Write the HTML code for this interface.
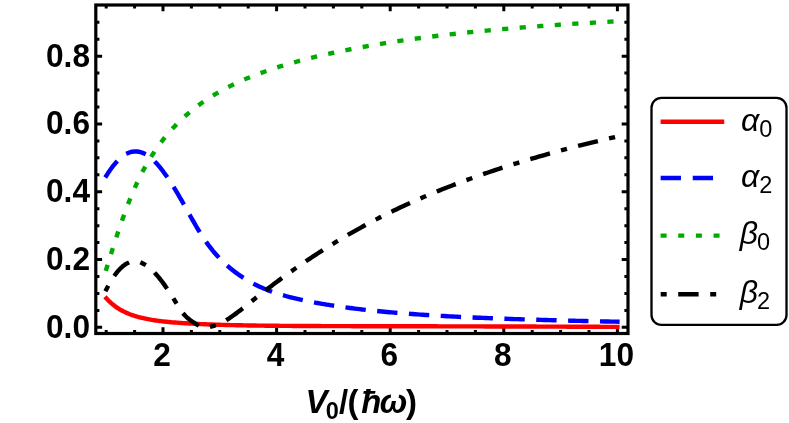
<!DOCTYPE html>
<html><head><meta charset="utf-8"><title>plot</title>
<style>
html,body{margin:0;padding:0;background:#fff;}
body{width:789px;height:423px;overflow:hidden;font-family:"Liberation Sans",sans-serif;}
svg{display:block;will-change:transform}
text{font-family:"Liberation Sans",sans-serif;fill:#000}
.b{font-weight:bold;font-size:33.5px}
.bi text{font-weight:bold;font-style:italic;font-size:33px}
.bi text.sub{font-style:normal;font-weight:bold;font-size:23.5px}
.bi text.up{font-style:normal}
.i{font-style:italic;font-size:32px}
.s{font-style:normal;font-size:23.5px}
</style></head><body>
<svg width="789" height="423" viewBox="0 0 789 423">
<rect width="789" height="423" fill="#fff"/>
<rect x="95.8" y="5.0" width="532.2" height="328.5" fill="none" stroke="#000" stroke-width="3.2"/>
<path d="M106.20 333.5 v-3.6 M106.20 5.0 v3.6 M134.60 333.5 v-3.6 M134.60 5.0 v3.6 M163.00 333.5 v-6.3 M163.00 5.0 v6.3 M191.40 333.5 v-3.6 M191.40 5.0 v3.6 M219.80 333.5 v-3.6 M219.80 5.0 v3.6 M248.20 333.5 v-3.6 M248.20 5.0 v3.6 M276.60 333.5 v-6.3 M276.60 5.0 v6.3 M305.00 333.5 v-3.6 M305.00 5.0 v3.6 M333.40 333.5 v-3.6 M333.40 5.0 v3.6 M361.80 333.5 v-3.6 M361.80 5.0 v3.6 M390.20 333.5 v-6.3 M390.20 5.0 v6.3 M418.60 333.5 v-3.6 M418.60 5.0 v3.6 M447.00 333.5 v-3.6 M447.00 5.0 v3.6 M475.40 333.5 v-3.6 M475.40 5.0 v3.6 M503.80 333.5 v-6.3 M503.80 5.0 v6.3 M532.20 333.5 v-3.6 M532.20 5.0 v3.6 M560.60 333.5 v-3.6 M560.60 5.0 v3.6 M589.00 333.5 v-3.6 M589.00 5.0 v3.6 M617.40 333.5 v-6.3 M617.40 5.0 v6.3 M95.8 327.35 h6.3 M628.0 327.35 h-6.3 M95.8 310.40 h3.6 M628.0 310.40 h-3.6 M95.8 293.45 h3.6 M628.0 293.45 h-3.6 M95.8 276.50 h3.6 M628.0 276.50 h-3.6 M95.8 259.55 h6.3 M628.0 259.55 h-6.3 M95.8 242.60 h3.6 M628.0 242.60 h-3.6 M95.8 225.65 h3.6 M628.0 225.65 h-3.6 M95.8 208.70 h3.6 M628.0 208.70 h-3.6 M95.8 191.75 h6.3 M628.0 191.75 h-6.3 M95.8 174.80 h3.6 M628.0 174.80 h-3.6 M95.8 157.85 h3.6 M628.0 157.85 h-3.6 M95.8 140.90 h3.6 M628.0 140.90 h-3.6 M95.8 123.95 h6.3 M628.0 123.95 h-6.3 M95.8 107.00 h3.6 M628.0 107.00 h-3.6 M95.8 90.05 h3.6 M628.0 90.05 h-3.6 M95.8 73.10 h3.6 M628.0 73.10 h-3.6 M95.8 56.15 h6.3 M628.0 56.15 h-6.3 M95.8 39.20 h3.6 M628.0 39.20 h-3.6 M95.8 22.25 h3.6 M628.0 22.25 h-3.6" stroke="#000" stroke-width="3.0" fill="none"/>
<text transform="translate(162.00,366.2) scale(0.945,1)" text-anchor="middle" class="b">2</text>
<text transform="translate(275.60,366.2) scale(0.945,1)" text-anchor="middle" class="b">4</text>
<text transform="translate(389.20,366.2) scale(0.945,1)" text-anchor="middle" class="b">6</text>
<text transform="translate(502.80,366.2) scale(0.945,1)" text-anchor="middle" class="b">8</text>
<text transform="translate(616.40,366.2) scale(0.945,1)" text-anchor="middle" class="b">10</text>
<text transform="translate(90.0,337.85) scale(0.945,1)" text-anchor="end" class="b">0.0</text>
<text transform="translate(90.0,270.05) scale(0.945,1)" text-anchor="end" class="b">0.2</text>
<text transform="translate(90.0,202.25) scale(0.945,1)" text-anchor="end" class="b">0.4</text>
<text transform="translate(90.0,134.45) scale(0.945,1)" text-anchor="end" class="b">0.6</text>
<text transform="translate(90.0,66.65) scale(0.945,1)" text-anchor="end" class="b">0.8</text>
<g class="bi"><text x="305.5" y="413">V</text><text x="325.8" y="418.9" class="sub">0</text><text x="339.1" y="413" class="up">/</text><text x="347.6" y="413" class="up">(</text><text x="361.2" y="413">ħ</text><text x="379.8" y="413">ω</text><text x="406.0" y="413" class="up">)</text></g>
<g fill="none" stroke-width="4.4" stroke-linecap="square" stroke-linejoin="round">
<path d="M106.40 298.38 L106.47 298.46 L106.61 298.61 L106.81 298.83 L107.05 299.08 L107.32 299.38 L107.64 299.71 L107.98 300.06 L108.36 300.45 L108.77 300.85 L109.20 301.27 L109.66 301.72 L110.15 302.17 L110.66 302.64 L111.20 303.12 L111.76 303.60 L112.34 304.09 L112.94 304.59 L113.57 305.09 L114.22 305.59 L114.89 306.10 L115.58 306.60 L116.29 307.10 L117.01 307.60 L117.76 308.10 L118.53 308.59 L119.32 309.07 L120.12 309.55 L120.94 310.03 L121.78 310.49 L122.64 310.95 L123.51 311.40 L124.40 311.85 L125.31 312.28 L126.24 312.71 L127.18 313.12 L128.14 313.53 L129.11 313.93 L130.10 314.31 L131.11 314.69 L132.13 315.06 L133.17 315.42 L134.22 315.76 L135.29 316.10 L136.37 316.43 L137.47 316.75 L138.58 317.06 L139.70 317.36 L140.85 317.65 L142.00 317.93 L143.17 318.20 L144.35 318.46 L145.55 318.72 L146.76 318.96 L147.99 319.20 L149.23 319.43 L150.48 319.65 L151.75 319.87 L153.03 320.07 L154.32 320.27 L155.62 320.47 L156.94 320.65 L158.28 320.83 L159.62 321.00 L160.98 321.17 L162.35 321.33 L163.73 321.49 L165.13 321.64 L166.54 321.78 L167.96 321.92 L169.39 322.06 L170.84 322.19 L172.30 322.32 L173.77 322.44 L175.25 322.56 L176.75 322.67 L178.25 322.79 L179.77 322.89 L181.30 323.00 L182.84 323.11 L184.40 323.21 L185.96 323.30 L187.54 323.40 L189.13 323.49 L190.73 323.58 L192.34 323.67 L193.97 323.76 L195.60 323.84 L197.25 323.92 L198.91 324.00 L200.57 324.08 L202.25 324.15 L203.94 324.22 L205.65 324.29 L207.36 324.36 L209.08 324.43 L210.82 324.49 L212.56 324.55 L214.32 324.61 L216.09 324.67 L217.87 324.73 L219.65 324.78 L221.45 324.84 L223.26 324.89 L225.08 324.94 L226.92 324.99 L228.76 325.03 L230.61 325.08 L232.47 325.12 L234.35 325.16 L236.23 325.21 L238.12 325.25 L240.03 325.28 L241.94 325.32 L243.86 325.36 L245.80 325.39 L247.74 325.43 L249.70 325.46 L251.66 325.49 L253.64 325.52 L255.62 325.55 L257.62 325.58 L259.62 325.61 L261.63 325.63 L263.66 325.66 L265.69 325.68 L267.74 325.71 L269.79 325.73 L271.85 325.75 L273.93 325.77 L276.01 325.79 L278.10 325.81 L280.20 325.83 L282.32 325.85 L284.44 325.87 L286.57 325.88 L288.71 325.90 L290.86 325.92 L293.02 325.93 L295.18 325.95 L297.36 325.96 L299.55 325.97 L301.75 325.99 L303.95 326.00 L306.17 326.01 L308.39 326.02 L310.62 326.03 L312.87 326.04 L315.12 326.06 L317.38 326.07 L319.65 326.07 L321.93 326.08 L324.22 326.09 L326.51 326.10 L328.82 326.11 L331.14 326.12 L333.46 326.12 L335.79 326.13 L338.14 326.14 L340.49 326.15 L342.85 326.15 L345.22 326.16 L347.59 326.17 L349.98 326.17 L352.38 326.18 L354.78 326.18 L357.19 326.19 L359.61 326.19 L362.04 326.20 L364.48 326.20 L366.93 326.21 L369.39 326.21 L371.85 326.22 L374.33 326.22 L376.81 326.23 L379.30 326.23 L381.80 326.24 L384.31 326.24 L386.82 326.24 L389.35 326.25 L391.88 326.25 L394.42 326.26 L396.97 326.26 L399.53 326.26 L402.10 326.27 L404.67 326.27 L407.26 326.28 L409.85 326.28 L412.45 326.29 L415.06 326.29 L417.68 326.29 L420.30 326.30 L422.94 326.30 L425.58 326.31 L428.23 326.31 L430.89 326.32 L433.55 326.32 L436.23 326.32 L438.91 326.33 L441.60 326.33 L444.30 326.34 L447.01 326.34 L449.72 326.35 L452.45 326.35 L455.18 326.36 L457.92 326.36 L460.67 326.37 L463.42 326.38 L466.18 326.38 L468.96 326.39 L471.74 326.39 L474.52 326.40 L477.32 326.41 L480.12 326.41 L482.93 326.42 L485.75 326.43 L488.58 326.43 L491.41 326.44 L494.26 326.45 L497.11 326.45 L499.97 326.46 L502.83 326.47 L505.71 326.48 L508.59 326.49 L511.48 326.49 L514.37 326.50 L517.28 326.51 L520.19 326.52 L523.11 326.53 L526.04 326.54 L528.98 326.55 L531.92 326.56 L534.87 326.57 L537.83 326.58 L540.80 326.59 L543.77 326.60 L546.75 326.61 L549.74 326.62 L552.74 326.63 L555.74 326.64 L558.75 326.65 L561.77 326.66 L564.80 326.67 L567.84 326.69 L570.88 326.70 L573.93 326.71 L576.98 326.72 L580.05 326.74 L583.12 326.75 L586.20 326.76 L589.29 326.78 L592.38 326.79 L595.48 326.80 L598.59 326.82 L601.71 326.83 L604.83 326.85 L607.96 326.86 L611.10 326.88 L614.25 326.89 L617.40 326.91" stroke="#ff0000"/>
<path d="M106.40 175.60 L106.47 175.49 L106.61 175.27 L106.81 174.97 L107.05 174.60 L107.32 174.17 L107.64 173.69 L107.98 173.17 L108.36 172.61 L108.77 172.00 L109.20 171.36 L109.66 170.69 L110.15 169.99 L110.66 169.27 L111.20 168.53 L111.76 167.77 L112.34 166.99 L112.94 166.20 L113.57 165.40 L114.22 164.59 L114.89 163.78 L115.58 162.97 L116.29 162.17 L117.01 161.37 L117.76 160.58 L118.53 159.80 L119.32 159.04 L120.12 158.30 L120.94 157.58 L121.78 156.88 L122.64 156.22 L123.51 155.58 L124.40 154.98 L125.31 154.41 L126.24 153.89 L127.18 153.41 L128.14 152.97 L129.11 152.59 L130.10 152.25 L131.11 151.97 L132.13 151.74 L133.17 151.58 L134.22 151.47 L135.29 151.43 L136.37 151.45 L137.47 151.55 L138.58 151.71 L139.70 151.95 L140.85 152.26 L142.00 152.64 L143.17 153.11 L144.35 153.66 L145.55 154.28 L146.76 154.99 L147.99 155.79 L149.23 156.67 L150.48 157.64 L151.75 158.70 L153.03 159.85 L154.32 161.09 L155.62 162.42 L156.94 163.85 L158.28 165.36 L159.62 166.96 L160.98 168.65 L162.35 170.42 L163.73 172.27 L165.13 174.19 L166.54 176.19 L167.96 178.27 L169.39 180.42 L170.84 182.63 L172.30 184.92 L173.77 187.27 L175.25 189.68 L176.75 192.15 L178.25 194.69 L179.77 197.28 L181.30 199.92 L182.84 202.62 L184.40 205.37 L185.96 208.16 L187.54 210.99 L189.13 213.84 L190.73 216.70 L192.34 219.56 L193.97 222.40 L195.60 225.23 L197.25 228.02 L198.91 230.78 L200.57 233.48 L202.25 236.12 L203.94 238.70 L205.65 241.19 L207.36 243.61 L209.08 245.94 L210.82 248.19 L212.56 250.37 L214.32 252.47 L216.09 254.50 L217.87 256.46 L219.65 258.35 L221.45 260.17 L223.26 261.94 L225.08 263.64 L226.92 265.30 L228.76 266.91 L230.61 268.47 L232.47 269.98 L234.35 271.45 L236.23 272.87 L238.12 274.24 L240.03 275.58 L241.94 276.86 L243.86 278.11 L245.80 279.32 L247.74 280.48 L249.70 281.61 L251.66 282.69 L253.64 283.74 L255.62 284.75 L257.62 285.72 L259.62 286.66 L261.63 287.56 L263.66 288.44 L265.69 289.28 L267.74 290.09 L269.79 290.87 L271.85 291.63 L273.93 292.36 L276.01 293.06 L278.10 293.74 L280.20 294.40 L282.32 295.04 L284.44 295.65 L286.57 296.25 L288.71 296.82 L290.86 297.38 L293.02 297.92 L295.18 298.45 L297.36 298.96 L299.55 299.45 L301.75 299.94 L303.95 300.41 L306.17 300.87 L308.39 301.31 L310.62 301.75 L312.87 302.18 L315.12 302.60 L317.38 303.01 L319.65 303.41 L321.93 303.81 L324.22 304.19 L326.51 304.57 L328.82 304.94 L331.14 305.31 L333.46 305.67 L335.79 306.02 L338.14 306.36 L340.49 306.70 L342.85 307.03 L345.22 307.35 L347.59 307.67 L349.98 307.98 L352.38 308.28 L354.78 308.58 L357.19 308.88 L359.61 309.16 L362.04 309.44 L364.48 309.72 L366.93 309.99 L369.39 310.26 L371.85 310.52 L374.33 310.77 L376.81 311.02 L379.30 311.27 L381.80 311.51 L384.31 311.74 L386.82 311.97 L389.35 312.20 L391.88 312.42 L394.42 312.64 L396.97 312.85 L399.53 313.06 L402.10 313.27 L404.67 313.47 L407.26 313.67 L409.85 313.86 L412.45 314.05 L415.06 314.24 L417.68 314.42 L420.30 314.60 L422.94 314.77 L425.58 314.95 L428.23 315.11 L430.89 315.28 L433.55 315.44 L436.23 315.60 L438.91 315.76 L441.60 315.91 L444.30 316.07 L447.01 316.21 L449.72 316.36 L452.45 316.50 L455.18 316.64 L457.92 316.78 L460.67 316.91 L463.42 317.05 L466.18 317.18 L468.96 317.31 L471.74 317.43 L474.52 317.55 L477.32 317.68 L480.12 317.79 L482.93 317.91 L485.75 318.03 L488.58 318.14 L491.41 318.25 L494.26 318.36 L497.11 318.47 L499.97 318.57 L502.83 318.68 L505.71 318.78 L508.59 318.88 L511.48 318.98 L514.37 319.08 L517.28 319.17 L520.19 319.27 L523.11 319.36 L526.04 319.45 L528.98 319.54 L531.92 319.63 L534.87 319.72 L537.83 319.80 L540.80 319.89 L543.77 319.97 L546.75 320.06 L549.74 320.14 L552.74 320.22 L555.74 320.30 L558.75 320.38 L561.77 320.45 L564.80 320.53 L567.84 320.61 L570.88 320.68 L573.93 320.75 L576.98 320.83 L580.05 320.90 L583.12 320.97 L586.20 321.04 L589.29 321.11 L592.38 321.18 L595.48 321.25 L598.59 321.32 L601.71 321.38 L604.83 321.45 L607.96 321.51 L611.10 321.58 L614.25 321.64 L617.40 321.71" stroke="#0000ff" stroke-dasharray="16.0 15.87"/>
<path d="M106.40 268.75 L106.47 268.53 L106.61 268.07 L106.81 267.45 L107.05 266.69 L107.32 265.80 L107.64 264.80 L107.98 263.70 L108.36 262.49 L108.77 261.19 L109.20 259.80 L109.66 258.33 L110.15 256.77 L110.66 255.14 L111.20 253.43 L111.76 251.66 L112.34 249.81 L112.94 247.90 L113.57 245.93 L114.22 243.91 L114.89 241.83 L115.58 239.70 L116.29 237.52 L117.01 235.29 L117.76 233.03 L118.53 230.73 L119.32 228.39 L120.12 226.03 L120.94 223.63 L121.78 221.22 L122.64 218.78 L123.51 216.32 L124.40 213.85 L125.31 211.37 L126.24 208.89 L127.18 206.40 L128.14 203.90 L129.11 201.42 L130.10 198.93 L131.11 196.46 L132.13 193.99 L133.17 191.55 L134.22 189.12 L135.29 186.71 L136.37 184.32 L137.47 181.96 L138.58 179.63 L139.70 177.32 L140.85 175.04 L142.00 172.79 L143.17 170.57 L144.35 168.37 L145.55 166.21 L146.76 164.07 L147.99 161.96 L149.23 159.88 L150.48 157.83 L151.75 155.81 L153.03 153.82 L154.32 151.85 L155.62 149.91 L156.94 148.01 L158.28 146.13 L159.62 144.28 L160.98 142.45 L162.35 140.66 L163.73 138.89 L165.13 137.15 L166.54 135.43 L167.96 133.74 L169.39 132.08 L170.84 130.44 L172.30 128.83 L173.77 127.25 L175.25 125.68 L176.75 124.15 L178.25 122.63 L179.77 121.15 L181.30 119.68 L182.84 118.24 L184.40 116.82 L185.96 115.42 L187.54 114.05 L189.13 112.69 L190.73 111.36 L192.34 110.05 L193.97 108.76 L195.60 107.49 L197.25 106.24 L198.91 105.01 L200.57 103.80 L202.25 102.61 L203.94 101.44 L205.65 100.29 L207.36 99.15 L209.08 98.03 L210.82 96.93 L212.56 95.85 L214.32 94.78 L216.09 93.73 L217.87 92.69 L219.65 91.67 L221.45 90.67 L223.26 89.68 L225.08 88.71 L226.92 87.75 L228.76 86.81 L230.61 85.88 L232.47 84.96 L234.35 84.06 L236.23 83.17 L238.12 82.29 L240.03 81.43 L241.94 80.58 L243.86 79.74 L245.80 78.91 L247.74 78.09 L249.70 77.29 L251.66 76.50 L253.64 75.71 L255.62 74.94 L257.62 74.18 L259.62 73.43 L261.63 72.69 L263.66 71.96 L265.69 71.24 L267.74 70.53 L269.79 69.83 L271.85 69.14 L273.93 68.45 L276.01 67.78 L278.10 67.11 L280.20 66.45 L282.32 65.80 L284.44 65.16 L286.57 64.52 L288.71 63.90 L290.86 63.28 L293.02 62.67 L295.18 62.06 L297.36 61.46 L299.55 60.87 L301.75 60.29 L303.95 59.71 L306.17 59.14 L308.39 58.57 L310.62 58.01 L312.87 57.46 L315.12 56.91 L317.38 56.37 L319.65 55.83 L321.93 55.30 L324.22 54.78 L326.51 54.26 L328.82 53.74 L331.14 53.23 L333.46 52.73 L335.79 52.23 L338.14 51.74 L340.49 51.25 L342.85 50.76 L345.22 50.29 L347.59 49.81 L349.98 49.34 L352.38 48.88 L354.78 48.42 L357.19 47.97 L359.61 47.52 L362.04 47.07 L364.48 46.64 L366.93 46.20 L369.39 45.77 L371.85 45.34 L374.33 44.92 L376.81 44.50 L379.30 44.09 L381.80 43.68 L384.31 43.28 L386.82 42.88 L389.35 42.48 L391.88 42.09 L394.42 41.70 L396.97 41.32 L399.53 40.94 L402.10 40.56 L404.67 40.19 L407.26 39.82 L409.85 39.46 L412.45 39.10 L415.06 38.74 L417.68 38.39 L420.30 38.04 L422.94 37.69 L425.58 37.35 L428.23 37.01 L430.89 36.68 L433.55 36.34 L436.23 36.02 L438.91 35.69 L441.60 35.37 L444.30 35.05 L447.01 34.74 L449.72 34.43 L452.45 34.12 L455.18 33.82 L457.92 33.52 L460.67 33.22 L463.42 32.92 L466.18 32.63 L468.96 32.34 L471.74 32.06 L474.52 31.78 L477.32 31.50 L480.12 31.22 L482.93 30.95 L485.75 30.68 L488.58 30.41 L491.41 30.14 L494.26 29.88 L497.11 29.62 L499.97 29.37 L502.83 29.11 L505.71 28.86 L508.59 28.62 L511.48 28.37 L514.37 28.13 L517.28 27.89 L520.19 27.65 L523.11 27.42 L526.04 27.18 L528.98 26.95 L531.92 26.73 L534.87 26.50 L537.83 26.28 L540.80 26.06 L543.77 25.84 L546.75 25.63 L549.74 25.42 L552.74 25.21 L555.74 25.00 L558.75 24.79 L561.77 24.59 L564.80 24.39 L567.84 24.19 L570.88 24.00 L573.93 23.80 L576.98 23.61 L580.05 23.42 L583.12 23.23 L586.20 23.05 L589.29 22.86 L592.38 22.68 L595.48 22.50 L598.59 22.33 L601.71 22.15 L604.83 21.98 L607.96 21.81 L611.10 21.64 L614.25 21.47 L617.40 21.31" stroke="#00aa00" stroke-dasharray="1.8 15.78"/>
<path d="M106.40 289.29 L107.47 287.26 L108.54 285.29 L109.61 283.39 L110.67 281.56 L111.74 279.80 L112.81 278.12 L113.88 276.51 L114.95 274.99 L116.02 273.54 L117.09 272.17 L118.15 270.89 L119.22 269.68 L120.29 268.56 L121.36 267.52 L122.43 266.56 L123.50 265.69 L124.57 264.90 L125.63 264.19 L126.70 263.56 L127.77 263.01 L128.84 262.54 L129.91 262.16 L130.98 261.85 L132.04 261.62 L133.11 261.47 L134.18 261.40 L135.25 261.40 L136.32 261.48 L137.39 261.63 L138.46 261.86 L139.52 262.15 L140.59 262.51 L141.66 262.94 L142.73 263.43 L143.80 263.99 L144.87 264.60 L145.94 265.28 L147.00 266.01 L148.07 266.79 L149.14 267.64 L150.21 268.53 L151.28 269.48 L152.35 270.47 L153.42 271.52 L154.48 272.61 L155.55 273.74 L156.62 274.93 L157.69 276.16 L158.76 277.43 L159.83 278.74 L160.90 280.09 L161.96 281.48 L163.03 282.91 L164.10 284.38 L165.17 285.89 L166.24 287.43 L167.31 289.00 L168.38 290.60 L169.44 292.23 L170.51 293.88 L171.58 295.56 L172.65 297.25 L173.72 298.97 L174.79 300.71 L175.86 302.45 L176.92 304.20 L177.99 305.92 L179.06 307.60 L180.13 309.22 L181.20 310.77 L182.27 312.22 L183.33 313.57 L184.40 314.82 L185.47 315.97 L186.54 317.02 L187.61 318.00 L188.68 318.92 L189.75 319.77 L190.81 320.56 L191.88 321.32 L192.95 322.03 L194.02 322.71 L195.09 323.38 L196.16 324.02 L197.23 324.65 L198.29 325.28 L199.36 325.91 L200.43 326.55 L201.50 327.20 L201.65 327.21 L201.92 327.24 L202.27 327.28 L202.69 327.31 L203.16 327.34 L203.68 327.37 L204.24 327.38 L204.85 327.38 L205.50 327.37 L206.18 327.33 L206.91 327.28 L207.66 327.21 L208.44 327.11 L209.26 326.98 L210.11 326.83 L210.98 326.65 L211.88 326.44 L212.81 326.19 L213.77 325.91 L214.75 325.60 L215.76 325.25 L216.79 324.86 L217.84 324.44 L218.92 323.98 L220.02 323.48 L221.14 322.94 L222.29 322.36 L223.45 321.74 L224.64 321.08 L225.84 320.37 L227.07 319.63 L228.32 318.85 L229.59 318.03 L230.87 317.16 L232.18 316.27 L233.50 315.33 L234.84 314.36 L236.20 313.36 L237.58 312.33 L238.98 311.27 L240.39 310.18 L241.83 309.07 L243.27 307.93 L244.74 306.77 L246.22 305.59 L247.72 304.39 L249.24 303.18 L250.77 301.95 L252.32 300.72 L253.88 299.47 L255.46 298.22 L257.05 296.96 L258.66 295.69 L260.29 294.42 L261.93 293.15 L263.59 291.86 L265.26 290.58 L266.94 289.29 L268.64 287.99 L270.36 286.69 L272.08 285.39 L273.83 284.08 L275.58 282.77 L277.35 281.46 L279.14 280.14 L280.94 278.82 L282.75 277.50 L284.58 276.17 L286.41 274.84 L288.27 273.51 L290.13 272.18 L292.01 270.85 L293.90 269.51 L295.81 268.18 L297.73 266.84 L299.66 265.51 L301.60 264.17 L303.56 262.83 L305.53 261.49 L307.51 260.16 L309.50 258.82 L311.51 257.49 L313.53 256.16 L315.56 254.82 L317.60 253.49 L319.66 252.17 L321.72 250.84 L323.80 249.52 L325.89 248.20 L327.99 246.88 L330.11 245.56 L332.23 244.25 L334.37 242.94 L336.52 241.64 L338.68 240.33 L340.85 239.04 L343.04 237.74 L345.23 236.45 L347.44 235.17 L349.65 233.88 L351.88 232.61 L354.12 231.34 L356.37 230.07 L358.63 228.81 L360.90 227.55 L363.18 226.30 L365.48 225.05 L367.78 223.81 L370.10 222.58 L372.42 221.35 L374.76 220.13 L377.10 218.91 L379.46 217.70 L381.83 216.49 L384.21 215.30 L386.60 214.10 L388.99 212.92 L391.40 211.74 L393.82 210.57 L396.25 209.40 L398.69 208.25 L401.14 207.09 L403.60 205.95 L406.07 204.81 L408.55 203.68 L411.04 202.55 L413.54 201.44 L416.05 200.32 L418.57 199.22 L421.10 198.12 L423.63 197.03 L426.18 195.94 L428.74 194.86 L431.31 193.79 L433.89 192.73 L436.47 191.67 L439.07 190.61 L441.68 189.57 L444.29 188.52 L446.92 187.49 L449.55 186.46 L452.19 185.44 L454.85 184.42 L457.51 183.41 L460.18 182.41 L462.86 181.41 L465.55 180.42 L468.25 179.44 L470.96 178.46 L473.67 177.48 L476.40 176.52 L479.14 175.55 L481.88 174.60 L484.63 173.65 L487.40 172.71 L490.17 171.77 L492.95 170.84 L495.74 169.91 L498.53 168.99 L501.34 168.07 L504.16 167.16 L506.98 166.26 L509.81 165.36 L512.65 164.47 L515.50 163.58 L518.36 162.70 L521.23 161.82 L524.11 160.95 L526.99 160.09 L529.88 159.23 L532.79 158.37 L535.70 157.53 L538.62 156.68 L541.54 155.84 L544.48 155.01 L547.42 154.18 L550.37 153.36 L553.34 152.54 L556.30 151.73 L559.28 150.92 L562.27 150.12 L565.26 149.32 L568.26 148.52 L571.27 147.74 L574.29 146.95 L577.32 146.18 L580.35 145.40 L583.40 144.63 L586.45 143.87 L589.51 143.11 L592.57 142.36 L595.65 141.61 L598.73 140.86 L601.82 140.12 L604.92 139.39 L608.03 138.66 L611.15 137.93 L614.27 137.21 L617.40 136.49" stroke="#000000" stroke-dasharray="1.8 15.87 16.0 15.87"/>
</g>
<rect x="651.5" y="97.85" width="135.0" height="227.1" rx="10" ry="10" fill="#fff" stroke="#000" stroke-width="2.3"/>
<path d="M660.6 121.8 H724.2" stroke="#f00" stroke-width="4.4"/>
<path d="M660.65 178 H724.2" stroke="#00f" stroke-width="4.4" stroke-dasharray="20.3 11.8"/>
<path d="M660.6 235.6 H724.2" stroke="#00aa00" stroke-width="4.4" stroke-dasharray="6 11.65"/>
<path d="M660.7 294.2 H724.2" stroke="#000" stroke-width="4.4" stroke-dasharray="6 11.5 20.4 11.6"/>
<text x="741" y="130.9" class="i">α<tspan class="s" dy="5.8" dx="0">0</tspan></text>
<text x="741" y="187.1" class="i">α<tspan class="s" dy="5.8" dx="0">2</tspan></text>
<text x="739.8" y="244.3" class="i">β<tspan class="s" dy="5.8" dx="-1.0">0</tspan></text>
<text x="739.8" y="303.0" class="i">β<tspan class="s" dy="5.8" dx="-1.0">2</tspan></text>
</svg>
</body></html>
